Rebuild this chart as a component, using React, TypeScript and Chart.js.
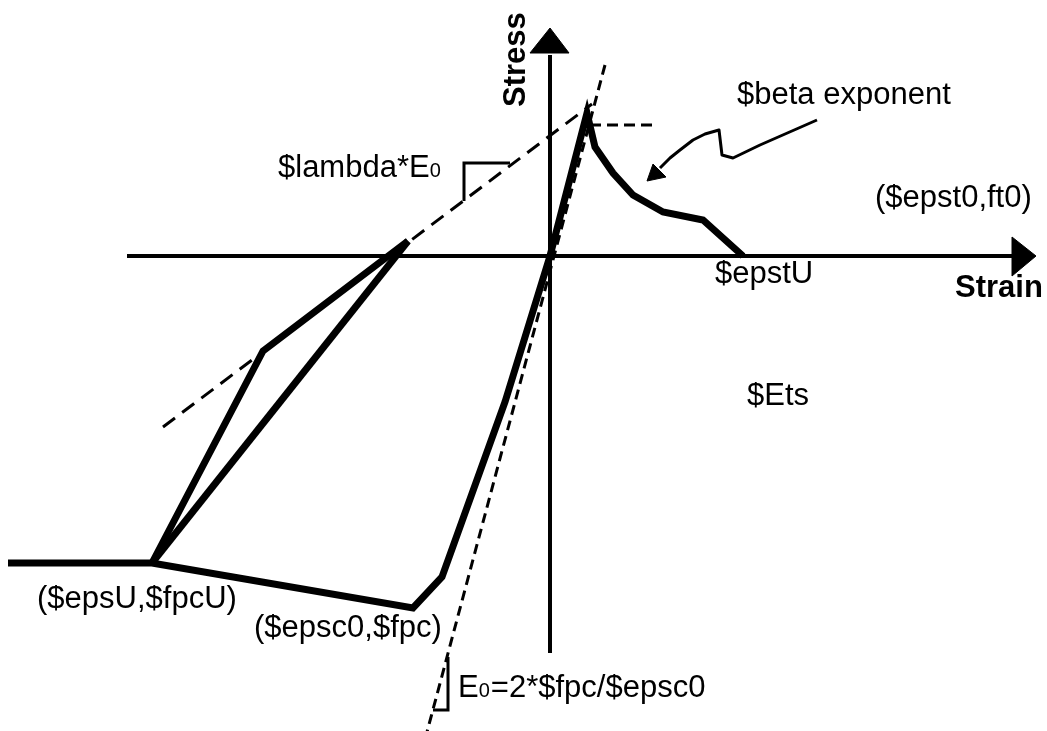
import React, { useEffect, useRef } from "react";
import { Chart, registerables } from "chart.js";

Chart.register(...registerables);

// Units: strain (x) and stress (y), origin at the intersection of the axes.
const envelope = [[-542, -307], [-398, -307], [-137, -352], [-108, -321], [-45, -146], [0, 0], [37, 143], [45, 109], [63, 83], [83, 61], [113, 44], [153, 36], [193, 0]];
const reloadPath = [[-142, 15], [-287, -95], [-398, -307]];
const unloadPath = [[-398, -307], [-142, 15]];
const lambdaLine = [[-387, -171], [42, 152]];
const e0Line = [[55, 191], [-123, -476]];
const peakLevel = [[40, 131], [102, 131]];
const lambdaTri = [[-86, 55], [-86, 93], [-40, 93]];
const e0Tri = [[-102, -401], [-102, -454], [-117, -454]];
const strainAxis = [[-423, 0], [465, 0]];
const stressAxis = [[0, -397], [0, 201]];
const strainHead = [[462, 19], [486, 0], [462, -20], [462, 19]];
const stressHead = [[-20, 203], [0, 228], [19, 203], [-20, 203]];
const betaPointer = [[267, 136], [210, 111], [183, 98], [172, 101], [169, 126], [155, 122], [143, 116], [130, 106], [120, 98], [110, 88]];
const betaHead = [[97, 75], [103, 92], [116, 79], [97, 75]];

const labelTexts = [
  [{ t: "$lambda*E" }, { t: "0", sub: true }],
  [{ t: "$beta exponent" }],
  [{ t: "($epst0,ft0)" }],
  [{ t: "$epstU" }],
  [{ t: "Strain", bold: true }],
  [{ t: "Stress", bold: true, rot: true }],
  [{ t: "$Ets" }],
  [{ t: "($epsU,$fpcU)" }],
  [{ t: "($epsc0,$fpc)" }],
  [{ t: "E" }, { t: "0", sub: true }, { t: "=2*$fpc/$epsc0" }],
];
const labelAnchors = [[-272, 79], [187, 152], [325, 49], [165, -27], [405, -41], [-25, 149], [197, -149], [-513, -352], [-296, -381], [-92, -441]];

const xRange = [-550, 497];
const yRange = [-475, 256];

const toPts = (a: number[][]) => a.map(([x, y]) => ({ x, y }));

const labelPlugin = {
  id: "diagramLabels",
  afterDatasetsDraw(chart: any) {
    const { ctx, scales } = chart;
    const sx = scales.x;
    const sy = scales.y;
    ctx.save();
    ctx.fillStyle = "#000";
    ctx.textBaseline = "alphabetic";
    ctx.textAlign = "left";
    labelTexts.forEach((parts: any[], i: number) => {
      const [ax, ay] = labelAnchors[i];
      let px = sx.getPixelForValue(ax);
      const py = sy.getPixelForValue(ay);
      ctx.save();
      ctx.translate(px, py);
      if (parts[0].rot) ctx.rotate(-Math.PI / 2);
      let off = 0;
      for (const p of parts) {
        const size = p.sub ? 20 : 31;
        ctx.font = `${p.bold ? "bold " : ""}${size}px "Liberation Sans", Arial, sans-serif`;
        ctx.fillText(p.t, off, 0);
        off += ctx.measureText(p.t).width + (p.sub ? 1 : 0);
      }
      ctx.restore();
    });
    ctx.restore();
  },
};

const line = (data: number[][], width: number, dash: number[] = [], extra: any = {}) => ({
  data: toPts(data),
  showLine: true,
  borderColor: "#000",
  backgroundColor: "#000",
  borderWidth: width,
  borderDash: dash,
  pointRadius: 0,
  fill: false,
  tension: 0,
  borderJoinStyle: "miter",
  borderCapStyle: "butt",
  ...extra,
});

export default function App() {
  const ref = useRef<HTMLCanvasElement>(null);
  useEffect(() => {
    document.body.style.margin = "0";
    const chart = new Chart(ref.current as HTMLCanvasElement, {
      type: "scatter",
      data: {
        datasets: [
          line(strainAxis, 4),
          line(stressAxis, 4),
          line(strainHead, 1, [], { fill: "shape" }),
          line(stressHead, 1, [], { fill: "shape" }),
          line(lambdaLine, 3, [15, 9]),
          line(e0Line, 3, [10, 6]),
          line(peakLevel, 3, [11, 6]),
          line(lambdaTri, 3),
          line(e0Tri, 3),
          line(envelope, 7),
          line(reloadPath, 7),
          line(unloadPath, 7),
          line(betaPointer, 3, [], { borderJoinStyle: "round" }),
          line(betaHead, 1, [], { fill: "shape" }),
        ] as any,
      },
      options: {
        animation: false,
        responsive: false,
        devicePixelRatio: 1,
        layout: { padding: 0 },
        plugins: { legend: { display: false }, tooltip: { enabled: false } },
        scales: {
          x: { type: "linear", display: false, min: xRange[0], max: xRange[1] },
          y: { type: "linear", display: false, min: yRange[0], max: yRange[1] },
        },
      },
      plugins: [labelPlugin],
    });
    return () => chart.destroy();
  }, []);
  return (
    <div style={{ position: "absolute", left: 0, top: 0, width: 1047, height: 731, background: "#fff" }}>
      <canvas ref={ref} width={1047} height={731} />
    </div>
  );
}
